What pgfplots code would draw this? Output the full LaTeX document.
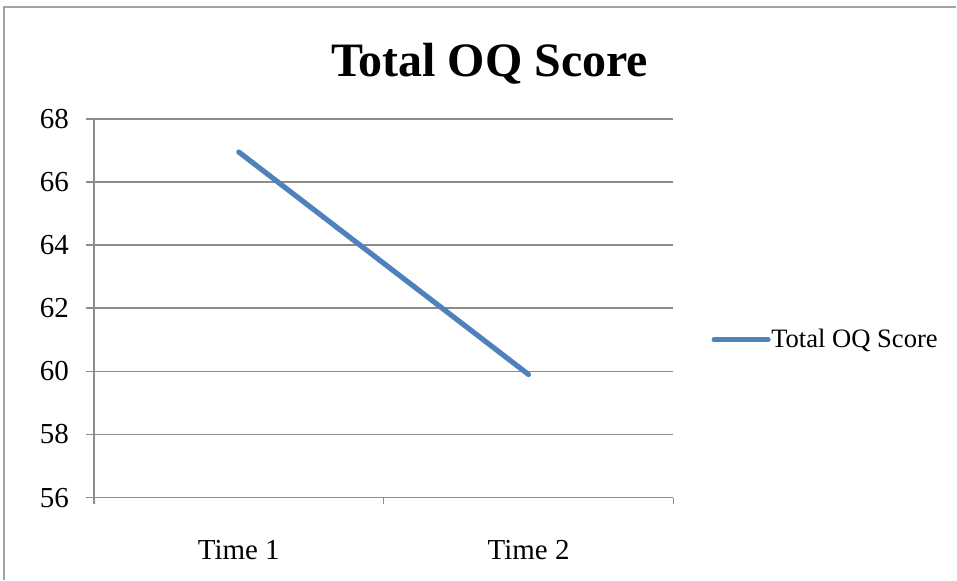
\documentclass[border=0pt]{standalone}
\usepackage{pgfplots}
\pgfplotsset{compat=1.18}
\usepackage{fontspec}
\setmainfont{Liberation Serif}
\definecolor{xlblue}{HTML}{4F81BD}
\definecolor{gridgray}{HTML}{8C8C8C}
\begin{document}
\begin{tikzpicture}
\path (0,0) rectangle (478.5pt,290pt);
\draw[gridgray!80, line width=0.8pt] (2pt,0) -- (2pt,286.5pt) -- (478.5pt,286.5pt);
\node[font=\fontsize{24}{28}\selectfont\bfseries] at (245pt,258pt) {Total OQ Score};
\begin{axis}[
  at={(47pt,41pt)}, anchor=south west,
  scale only axis, width=290pt, height=189.5pt,
  xmin=0, xmax=2, ymin=56, ymax=68,
  ytick={56,58,...,68},
  xtick={0.5,1.5}, xticklabels={Time 1, Time 2},
  minor xtick={0,1,2},
  axis x line*=bottom, axis y line*=left,
  axis line style={gridgray, line width=0.8pt, -},
  ymajorgrids, grid style={gridgray, line width=0.8pt},
  major x tick style={draw=none},
  minor x tick style={gridgray, line width=0.8pt},
  major y tick style={gridgray, line width=0.8pt},
  tick align=outside,
  major tick length=4pt, minor tick length=3pt,
  /pgf/number format/assume math mode=true,
  tick label style={font=\fontsize{14.5}{17}\selectfont},
  yticklabel style={xshift=-5pt},
  xticklabel style={yshift=-14pt},
  legend style={at={(1.065,0.417)}, anchor=west, draw=none, fill=none, inner sep=0pt,
    font=\fontsize{13.3}{16}\selectfont, legend cell align=left,
    nodes={inner xsep=0.3pt}},
  legend image code/.code={\draw[#1] (0pt,0pt) -- (27pt,0pt);},
]
\addplot[xlblue, line width=2.6pt, line cap=round] coordinates {(0.5,66.95) (1.5,59.9)};
\addlegendentry{Total OQ Score}
\end{axis}
\end{tikzpicture}
\end{document}
